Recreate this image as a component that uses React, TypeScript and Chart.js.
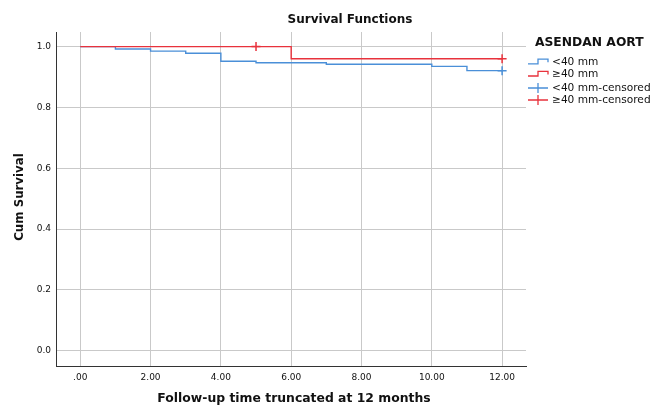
import React, { useEffect, useRef } from "react";
import { Chart, registerables } from "chart.js";

Chart.register(...registerables);

const xTicks = [0, 2, 4, 6, 8, 10, 12];
const yTicks = [0, 0.2, 0.4, 0.6, 0.8, 1.0];

const lowTimes = [0, 1, 2, 3, 4, 5, 7, 10, 11, 12];
const lowSurv = [1.0, 0.992, 0.985, 0.978, 0.952, 0.947, 0.942, 0.935, 0.921, 0.921];
const highTimes = [0, 6, 12];
const highSurv = [1.0, 0.96, 0.96];

const lowCensTimes = [12];
const lowCensSurv = [0.921];
const highCensTimes = [5, 12];
const highCensSurv = [1.0, 0.96];

const seriesLabels = ["<40 mm", "≥40 mm", "<40 mm-censored", "≥40 mm-censored"];
const BLUE = "#4a8fd8";
const RED = "#e8323c";
const FONT = "'DejaVu Sans', sans-serif";

const textPlugin = {
  id: "texts",
  afterDraw(chart: any) {
    const ctx = chart.ctx;
    ctx.save();
    ctx.fillStyle = "#111";
    ctx.textBaseline = "middle";
    ctx.textAlign = "center";
    ctx.font = `bold 12px ${FONT}`;
    ctx.fillText("Survival Functions", 350, 20);
    ctx.font = `bold 12.4px ${FONT}`;
    ctx.fillText("Follow-up time truncated at 12 months", 294, 399);
    ctx.save();
    ctx.translate(20, 197);
    ctx.rotate(-Math.PI / 2);
    ctx.font = `bold 11.8px ${FONT}`;
    ctx.fillText("Cum Survival", 0, 0);
    ctx.restore();

    // legend
    ctx.textAlign = "left";
    ctx.font = `bold 12.3px ${FONT}`;
    ctx.fillText("ASENDAN AORT", 535, 43);
    ctx.font = `10.6px ${FONT}`;
    const ys = [62.3, 74.5, 88, 100];
    const cols = [BLUE, RED, BLUE, RED];
    ys.forEach((y, i) => {
      ctx.strokeStyle = cols[i];
      ctx.lineWidth = 1.3;
      ctx.beginPath();
      if (i < 2) {
        ctx.moveTo(528, y + 1.5);
        ctx.lineTo(538, y + 1.5);
        ctx.lineTo(538, y - 3.2);
        ctx.lineTo(548, y - 3.2);
        ctx.lineTo(548, y);
      } else {
        ctx.moveTo(528, y);
        ctx.lineTo(548, y);
        ctx.moveTo(538, y - 5);
        ctx.lineTo(538, y + 5);
      }
      ctx.stroke();
      ctx.fillStyle = "#111";
      ctx.fillText(seriesLabels[i], 552, y);
    });
    ctx.restore();
  },
};

export default function App() {
  const ref = useRef<HTMLCanvasElement>(null);
  useEffect(() => {
    const toPts = (xs: number[], ys: number[]) => xs.map((x, i) => ({ x, y: ys[i] }));
    const chart = new Chart(ref.current!, {
      type: "line",
      data: {
        datasets: [
          {
            label: seriesLabels[0],
            data: toPts(lowTimes, lowSurv),
            borderColor: BLUE,
            borderWidth: 1.4,
            stepped: "before",
            pointRadius: 0,
            fill: false,
            order: 2,
          },
          {
            label: seriesLabels[1],
            data: toPts(highTimes, highSurv),
            borderColor: RED,
            borderWidth: 1.4,
            stepped: "before",
            pointRadius: 0,
            fill: false,
            order: 1,
          },
          {
            label: seriesLabels[2],
            data: toPts(lowCensTimes, lowCensSurv),
            borderColor: BLUE,
            showLine: false,
            pointStyle: "cross",
            pointRadius: 4.5,
            pointBorderWidth: 1.5,
            order: 0,
          },
          {
            label: seriesLabels[3],
            data: toPts(highCensTimes, highCensSurv),
            borderColor: RED,
            showLine: false,
            pointStyle: "cross",
            pointRadius: 4.5,
            pointBorderWidth: 1.5,
            order: 0,
          },
        ],
      },
      options: {
        animation: false,
        responsive: true,
        maintainAspectRatio: false,
        layout: { padding: { left: 0, right: 136, top: 32, bottom: 0 } },
        plugins: { legend: { display: false }, title: { display: false }, tooltip: { enabled: false } },
        scales: {
          x: {
            type: "linear",
            min: -0.69,
            max: 12.68,
            afterBuildTicks: (s: any) => {
              s.ticks = xTicks.map((v) => ({ value: v }));
            },
            afterFit: (s: any) => {
              s.height = 40;
            },
            ticks: {
              callback: (v: any) => (v === 0 ? ".00" : Number(v).toFixed(2)),
              font: { family: FONT, size: 9 },
              color: "#111",
              padding: 6,
              maxRotation: 0,
            },
            grid: { color: "#c9c9c9", lineWidth: 1, drawTicks: false },
            border: { color: "#333", width: 1 },
          },
          y: {
            type: "linear",
            min: -0.05,
            max: 1.048,
            afterBuildTicks: (s: any) => {
              s.ticks = yTicks.map((v) => ({ value: v }));
            },
            afterFit: (s: any) => {
              s.width = 56;
            },
            ticks: {
              callback: (v: any) => Number(v).toFixed(1),
              font: { family: FONT, size: 9 },
              color: "#111",
              padding: 5,
            },
            grid: { color: "#c9c9c9", lineWidth: 1, drawTicks: false },
            border: { color: "#333", width: 1 },
          },
        },
      },
      plugins: [textPlugin],
    });
    return () => chart.destroy();
  }, []);
  return (
    <div style={{ position: "absolute", left: 0, top: 0, width: 662, height: 406, background: "#fff" }}>
      <canvas ref={ref} />
    </div>
  );
}
